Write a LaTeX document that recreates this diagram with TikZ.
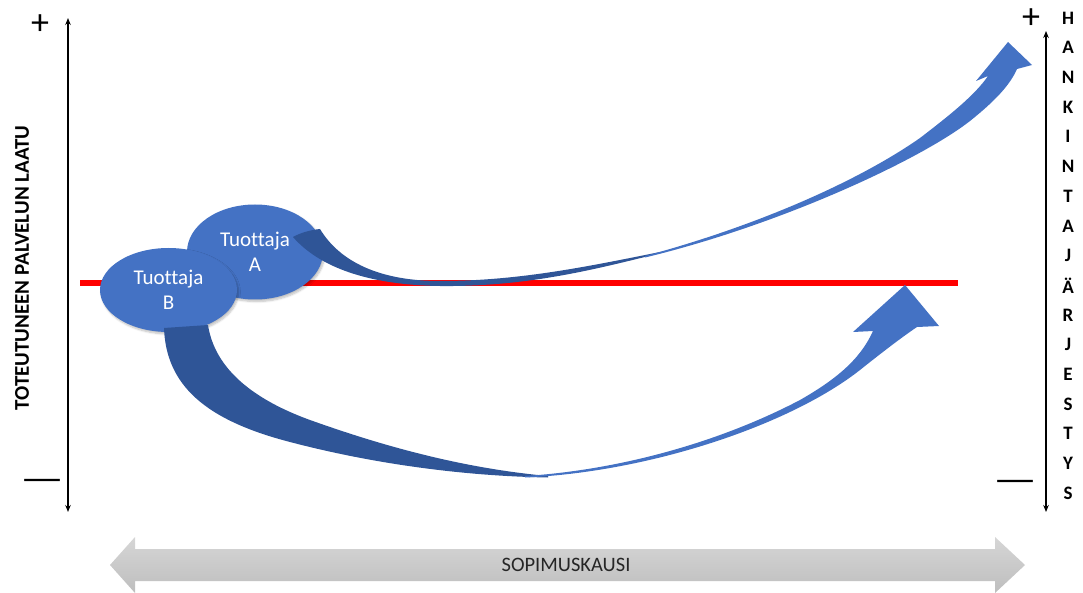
\documentclass[tikz,border=0pt]{standalone}
\usepackage{fontspec}
\setmainfont{Carlito}[Ligatures=NoCommon]
\usetikzlibrary{arrows.meta,shapes.geometric,shadows.blur}
\definecolor{accblue}{HTML}{4472C4}
\definecolor{accdark}{HTML}{2F5597}
\definecolor{qred}{HTML}{FF0000}
\definecolor{bandtop}{HTML}{D6D6D6}
\definecolor{bandbot}{HTML}{BEBEBE}
\begin{document}
\begin{tikzpicture}[x=1pt,y=-1pt,
  axisline/.style={line width=1.4pt,
    {Stealth[length=7pt,width=5.5pt]}-{Stealth[length=7pt,width=5.5pt]}},
  signtext/.style={font=\fontsize{36}{36}\selectfont, inner sep=0pt},
  dashtext/.style={signtext, xscale=1.35},
  party/.style={ellipse, fill=accblue, text=white, inner sep=0pt,
    align=center, font=\fontsize{21}{25}\selectfont,
    blur shadow={shadow xshift=1.5pt, shadow yshift=-2pt,
      shadow opacity=25, shadow blur steps=6}},
  backband/.style={fill=accdark},
  frontband/.style={fill=accblue},
  letter/.style={font=\bfseries\fontsize{19}{19}\selectfont, inner sep=0pt}]
\useasboundingbox (0,0) rectangle (1083,593);

% quality axis (left)
\coordinate (ltop) at (68,18);
\coordinate (lbot) at (68,512);
\draw[axisline] (ltop) -- (lbot);
\node[signtext] (lplus) at (40,25) {+};
\node[dashtext] (lminus) at (42,485) {—};
\node[rotate=90, font=\bfseries\fontsize{21}{21}\selectfont] (ylabel) at (22,268)
  {TOTEUTUNEEN PALVELUN LAATU};

% ranking axis (right)
\coordinate (rtop) at (1046,31);
\coordinate (rbot) at (1046,512);
\draw[axisline] (rtop) -- (rbot);
\node[signtext] (rplus) at (1031,19) {+};
\node[dashtext] (rminus) at (1015,486) {—};
\foreach \ch [count=\i from 0] in {H,A,N,K,I,N,T,A,J,Ä,R,J,E,S,T,Y,S}
  \node[letter] (rl\i) at (1068,{18+29.7*\i}) {\ch};

% reference level
\coordinate (refl) at (80,283);
\coordinate (refr) at (958,283);
\draw[qred, line width=6pt] (refl) -- (refr);

% providers
\node[party, minimum width=136pt, minimum height=95pt] (pa) at (255,252) {Tuottaja\\A};
\node[party, minimum width=137pt, minimum height=84pt] (pb) at (168.5,290) {Tuottaja\\B};

% provider A: back part of the curved arrow
\fill[backband]
  (293,237) .. controls (320,268) and (370,285) .. (440,286)
  .. controls (530,287) and (600,268) .. (665,252)
  -- (665,251) .. controls (590,266) and (520,281) .. (440,281)
  .. controls (380,281) and (340,262) .. (320,229)
  .. controls (310,230) and (300,233) .. cycle;
% provider A: front part with head
\fill[frontband]
  (645,257.5) .. controls (780,225) and (920,160) .. (970,121)
  .. controls (995,101) and (1010,85) .. (1017,69)
  -- (1032,65) -- (1008,42) -- (976,81) -- (988,76)
  .. controls (975,95) and (950,115) .. (920,138)
  .. controls (860,180) and (760,225) .. (645,256) -- cycle;

% provider B: back part of the curved arrow
\fill[backband]
  (164,328) .. controls (166,385) and (205,420) .. (290,442)
  .. controls (370,463) and (460,476) .. (548,477.5)
  -- (548,476) .. controls (460,468) and (380,445) .. (310,420)
  .. controls (255,400) and (215,370) .. (208,325) -- cycle;
% provider B: front part with head
\fill[frontband]
  (525,477.5) .. controls (650,472) and (790,425) .. (860,370)
  .. controls (885,350) and (905,335) .. (917,327)
  -- (939,326) -- (905,285) -- (853,332) -- (873,331)
  .. controls (860,360) and (835,380) .. (800,400)
  .. controls (720,442) and (620,470) .. (525,476) -- cycle;

% contract period
\shade[top color=bandtop, bottom color=bandbot]
  (110,565) -- (135,537) -- (135,549) -- (995,549) -- (995,537) -- (1025,565)
  -- (995,593) -- (995,581) -- (135,581) -- (135,593) -- cycle;
\node[font=\fontsize{20.5}{20.5}\selectfont, text=black!85] (period) at (566,565) {SOPIMUSKAUSI};
\end{tikzpicture}
\end{document}
